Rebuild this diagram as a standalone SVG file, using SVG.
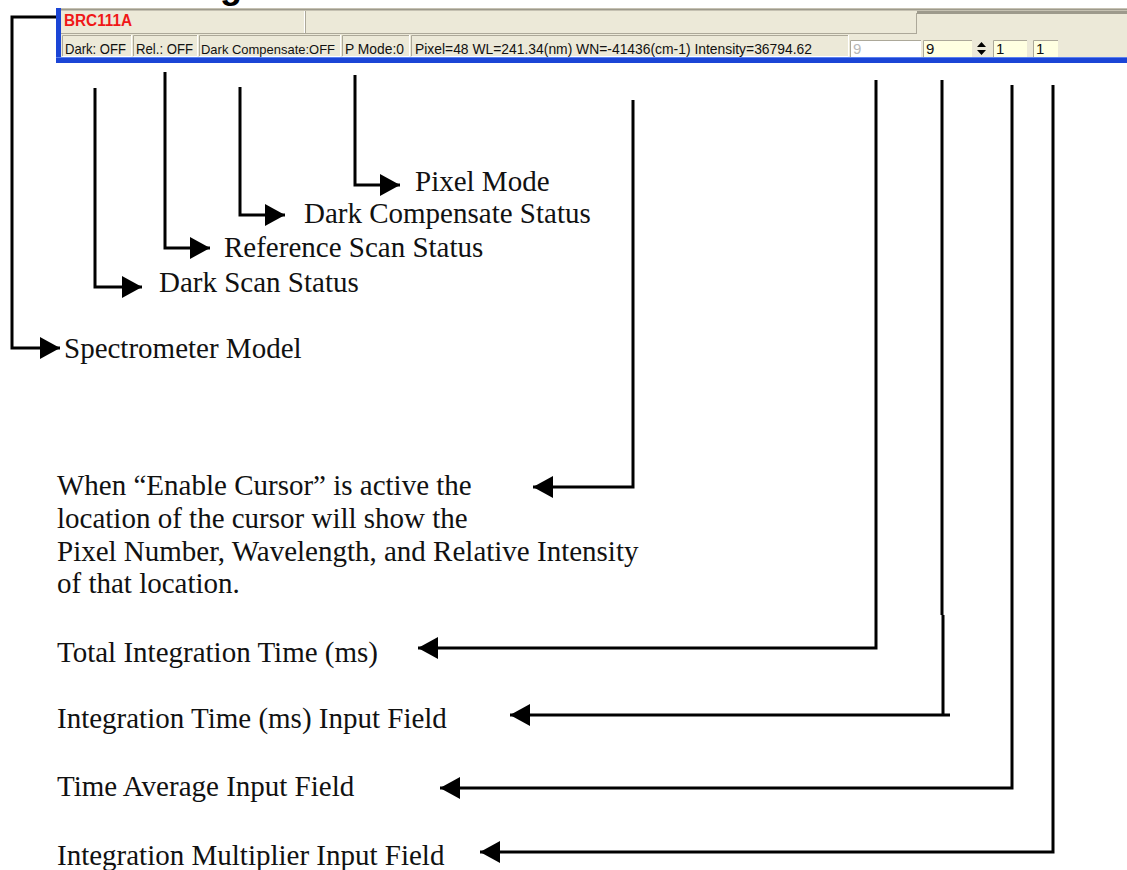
<svg xmlns="http://www.w3.org/2000/svg" width="1127" height="870" viewBox="0 0 1127 870">
<style>
.lbl{font-family:"Liberation Serif","Times New Roman",serif;font-size:29px;fill:#111}
.bar{font-family:"Liberation Sans",Arial,sans-serif;font-size:15px;fill:#111}
.conn{fill:none;stroke:#000;stroke-width:3;stroke-linejoin:miter}
.sk{stroke:#ACA899;stroke-width:1;fill:none}
.hl{stroke:#FFFFFF;stroke-width:1;fill:none}
</style>
<defs>
<marker id="ah" markerUnits="userSpaceOnUse" markerWidth="20" markerHeight="22" refX="20" refY="11" orient="auto" viewBox="0 0 20 22">
<path d="M0,0 L20,11 L0,22 z" fill="#000"/>
</marker>
</defs>
<rect width="1127" height="870" fill="#fff"/>
<text x="220" y="-2" font-family="Liberation Sans,Arial,sans-serif" font-weight="bold" font-size="36" fill="#000">g</text>

<g id="statusbar">
<rect x="56" y="8" width="1071" height="55" fill="#ECE9D8"/>
<line x1="56" y1="9.5" x2="1127" y2="9.5" stroke="#9D9A8C" stroke-width="2"/>
<rect x="56" y="8" width="5" height="55" fill="#1B45D6"/>
<rect x="56" y="57" width="1071" height="6" fill="#1B45D6"/>
<line x1="56" y1="57.5" x2="1127" y2="57.5" stroke="#5A80F0" stroke-width="1"/>
<path class="hl" d="M304.5,11 V33"/>
<path class="sk" d="M305.5,11 V33"/>
<path class="sk" d="M61,33.5 H917"/>
<path class="sk" d="M916.5,13 V33"/>
<path d="M917,12.5 H1127" stroke="#9D9A8C" stroke-width="3"/>
<text x="64" y="26" font-family="Liberation Sans,Arial,sans-serif" font-weight="bold" font-size="16" fill="#F01818" textLength="68" lengthAdjust="spacingAndGlyphs">BRC111A</text>
<g>
<path class="sk" d="M62.5,56 V35.5 H131"/><path class="hl" d="M62.5,56.5 H131.5 V35"/>
<path class="sk" d="M133.5,56 V35.5 H197"/><path class="hl" d="M133.5,56.5 H197.5 V35"/>
<path class="sk" d="M199.5,56 V35.5 H340"/><path class="hl" d="M199.5,56.5 H340.5 V35"/>
<path class="sk" d="M342.5,56 V35.5 H409"/><path class="hl" d="M342.5,56.5 H409.5 V35"/>
<path class="sk" d="M411.5,56 V35.5 H848"/><path class="hl" d="M411.5,56.5 H848.5 V35"/>
</g>
<text class="bar" x="65" y="54" textLength="61" lengthAdjust="spacingAndGlyphs">Dark: OFF</text>
<text class="bar" x="136" y="54" textLength="57" lengthAdjust="spacingAndGlyphs">Rel.: OFF</text>
<text class="bar" x="201" y="54" style="font-size:13.5px" textLength="134" lengthAdjust="spacingAndGlyphs">Dark Compensate:OFF</text>
<text class="bar" x="345" y="54" textLength="59" lengthAdjust="spacingAndGlyphs">P Mode:0</text>
<text class="bar" x="415" y="54" textLength="397" lengthAdjust="spacingAndGlyphs">Pixel=48  WL=241.34(nm)  WN=-41436(cm-1)  Intensity=36794.62</text>
<rect x="850" y="40" width="71" height="17" fill="#FFFFFF"/>
<path class="sk" d="M850.5,57 V40.5 H921"/>
<text class="bar" x="853" y="54" style="fill:#B8B8B8">9</text>
<rect x="923" y="40" width="49" height="17" fill="#FFFFE1"/>
<path class="sk" d="M923.5,57 V40.5 H972"/>
<text class="bar" x="926" y="54">9</text>
<path d="M977,47 L981.5,42 L986,47 z M977,50 L981.5,55 L986,50 z" fill="#000"/>
<rect x="993" y="40" width="34" height="17" fill="#FFFFE1"/>
<path class="sk" d="M993.5,57 V40.5 H1027"/>
<text class="bar" x="996" y="54">1</text>
<rect x="1033" y="40" width="25" height="17" fill="#FFFFE1"/>
<path class="sk" d="M1033.5,57 V40.5 H1058"/>
<text class="bar" x="1036" y="54">1</text>
</g>

<g id="connectors">
<path class="conn" d="M56,17 H12 V348 H60" marker-end="url(#ah)"/>
<path class="conn" d="M95,88 V287 H142" marker-end="url(#ah)"/>
<path class="conn" d="M165,72 V248 H210" marker-end="url(#ah)"/>
<path class="conn" d="M240,87 V215 H285" marker-end="url(#ah)"/>
<path class="conn" d="M355,75 V185 H400" marker-end="url(#ah)"/>
<path class="conn" d="M633,100 V487 H533" marker-end="url(#ah)"/>
<path class="conn" d="M876,80 V648 H418" marker-end="url(#ah)"/>
<path class="conn" d="M942,80 V615 M943,615 V715 M950,715 H510" marker-end="url(#ah)"/>
<path class="conn" d="M1012,85 V788 H440" marker-end="url(#ah)"/>
<path class="conn" d="M1053,85 V852 H480" marker-end="url(#ah)"/>
</g>

<g id="spectrometer-model"><text class="lbl" x="64" y="358">Spectrometer Model</text></g>
<g id="dark-scan-status"><text class="lbl" x="159" y="292">Dark Scan Status</text></g>
<g id="reference-scan-status"><text class="lbl" x="224" y="257">Reference Scan Status</text></g>
<g id="dark-compensate-status"><text class="lbl" x="304" y="223">Dark Compensate Status</text></g>
<g id="pixel-mode"><text class="lbl" x="415" y="191">Pixel Mode</text></g>
<g id="cursor-info">
<text class="lbl" x="57" y="495">When “Enable Cursor” is active the</text>
<text class="lbl" x="57" y="528">location of the cursor will show the</text>
<text class="lbl" x="57" y="561">Pixel Number, Wavelength, and Relative Intensity</text>
<text class="lbl" x="57" y="593">of that location.</text>
</g>
<g id="total-integration-time"><text class="lbl" x="57" y="662">Total Integration Time (ms)</text></g>
<g id="integration-time-input"><text class="lbl" x="57" y="728">Integration Time (ms) Input Field</text></g>
<g id="time-average-input"><text class="lbl" x="57" y="796">Time Average Input Field</text></g>
<g id="integration-multiplier-input"><text class="lbl" x="57" y="865">Integration Multiplier Input Field</text></g>
</svg>
